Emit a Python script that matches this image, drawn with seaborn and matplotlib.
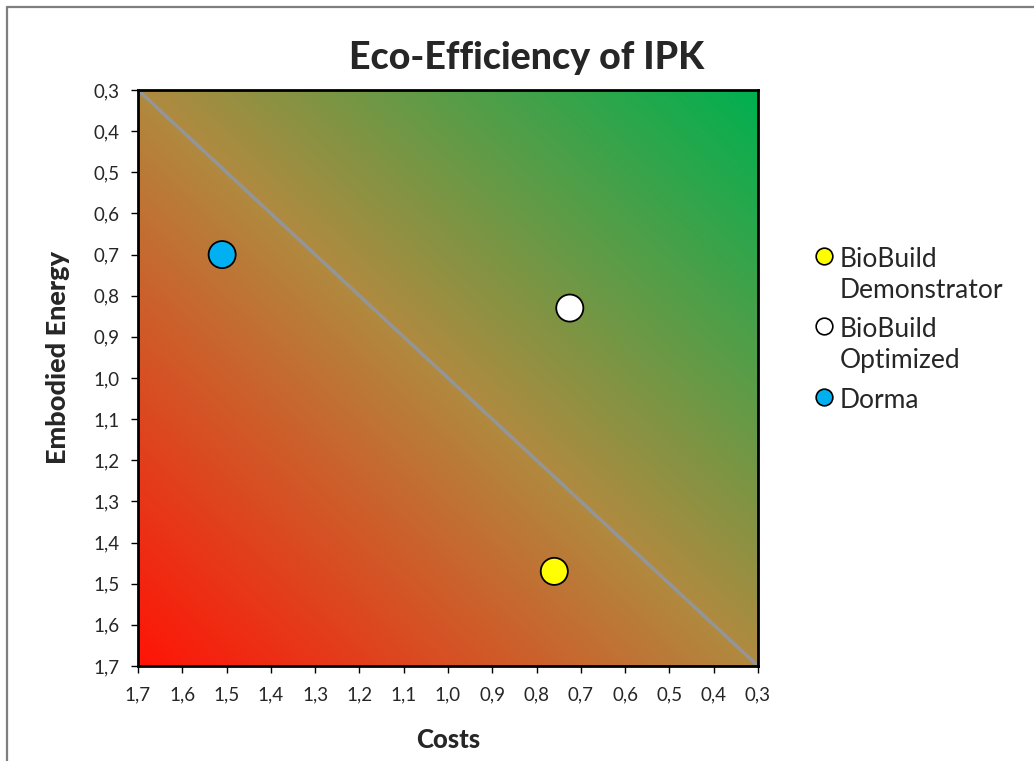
import matplotlib
matplotlib.use("Agg")
import matplotlib.pyplot as plt
import numpy as np
import pandas as pd
import seaborn as sns
from matplotlib.colors import LinearSegmentedColormap
from matplotlib.lines import Line2D
from matplotlib.ticker import FuncFormatter, MultipleLocator

# data
names = ["BioBuild\nDemonstrator", "BioBuild\nOptimized", "Dorma"]
costs = [0.76, 0.725, 1.51]
energy = [1.47, 0.83, 0.70]
colors = ["#FFFF00", "#FFFFFF", "#00B0F0"]

# break-even diagonal
line_costs = [1.7, 0.3]
line_energy = [0.3, 1.7]

df = pd.DataFrame({"Costs": costs, "Embodied Energy": energy, "name": names})
line_df = pd.DataFrame({"Costs": line_costs, "Embodied Energy": line_energy})

sns.set_style("white")
plt.rcParams["font.family"] = ["Lato", "DejaVu Sans"]

fig = plt.figure(figsize=(10.34, 7.61), dpi=100)
ax = fig.add_axes([138 / 1034, 1 - 666 / 761, 620 / 1034, 576 / 761])

# red -> green background gradient
cmap = LinearSegmentedColormap.from_list(
    "eco", [(0.0, "#FF1408"), (0.5, "#B08A3F"), (1.0, "#00B050")]
)
n = 300
g = np.linspace(0, 1, n)
grad = (g[:, None] + g[None, :]) / 2
ax.imshow(grad, cmap=cmap, extent=[0, 1, 0, 1], transform=ax.transAxes,
          origin="lower", aspect="auto", zorder=0)

sns.lineplot(data=line_df, x="Costs", y="Embodied Energy", ax=ax,
             color="#959595", linewidth=2.6, zorder=2, sort=False)
sns.scatterplot(data=df, x="Costs", y="Embodied Energy", hue="name",
                palette=colors, s=380, edgecolor="black", linewidth=1.3,
                ax=ax, zorder=3, legend=False)

ax.set_xlim(1.7, 0.3)
ax.set_ylim(1.7, 0.3)
fmt = FuncFormatter(lambda v, p: f"{v:.1f}".replace(".", ","))
for axis in (ax.xaxis, ax.yaxis):
    axis.set_major_locator(MultipleLocator(0.1))
    axis.set_major_formatter(fmt)
ax.tick_params(axis="both", direction="out", length=5, width=1, color="black",
               labelsize=13.5, pad=8, bottom=True, left=True)
ax.tick_params(axis="x", pad=10)
for sp in ax.spines.values():
    sp.set_color("black")
    sp.set_linewidth(2)

ax.set_xlabel("Costs", fontsize=18.5, fontweight="black")
ax.set_ylabel("Embodied Energy", fontsize=19.5, fontweight="black")
ax.xaxis.set_label_coords(0.5, (666 - 728) / 576)
ax.yaxis.set_label_coords((70 - 138) / 620, (666 - 358) / 576)
fig.text(527 / 1034, 1 - 58 / 761, "Eco-Efficiency of IPK", fontsize=27,
         fontweight="black", ha="center", va="center")

handles = [Line2D([], [], marker="o", linestyle="", markersize=12,
                  markerfacecolor=c, markeredgecolor="black", markeredgewidth=1.2)
           for c in colors]
leg = fig.legend(handles, names, loc="upper left",
                 bbox_to_anchor=(800 / 1034, 1 - 236 / 761), frameon=False,
                 fontsize=19, handletextpad=0.1, labelspacing=0.55,
                 borderaxespad=0, handlelength=1.0)
for t in leg.get_texts():
    t.set_linespacing(1.3)
for col in leg._legend_handle_box.get_children():
    for row in col.get_children():
        row.align = "top"

# outer chart border (left and top visible)
fig.add_artist(Line2D([7 / 1034, 7 / 1034], [0, 1 - 7 / 761], color="#7f7f7f",
                      linewidth=1.6, transform=fig.transFigure))
fig.add_artist(Line2D([7 / 1034, 1], [1 - 7 / 761, 1 - 7 / 761], color="#7f7f7f",
                      linewidth=1.6, transform=fig.transFigure))

fig.savefig("out.png", dpi=100)
